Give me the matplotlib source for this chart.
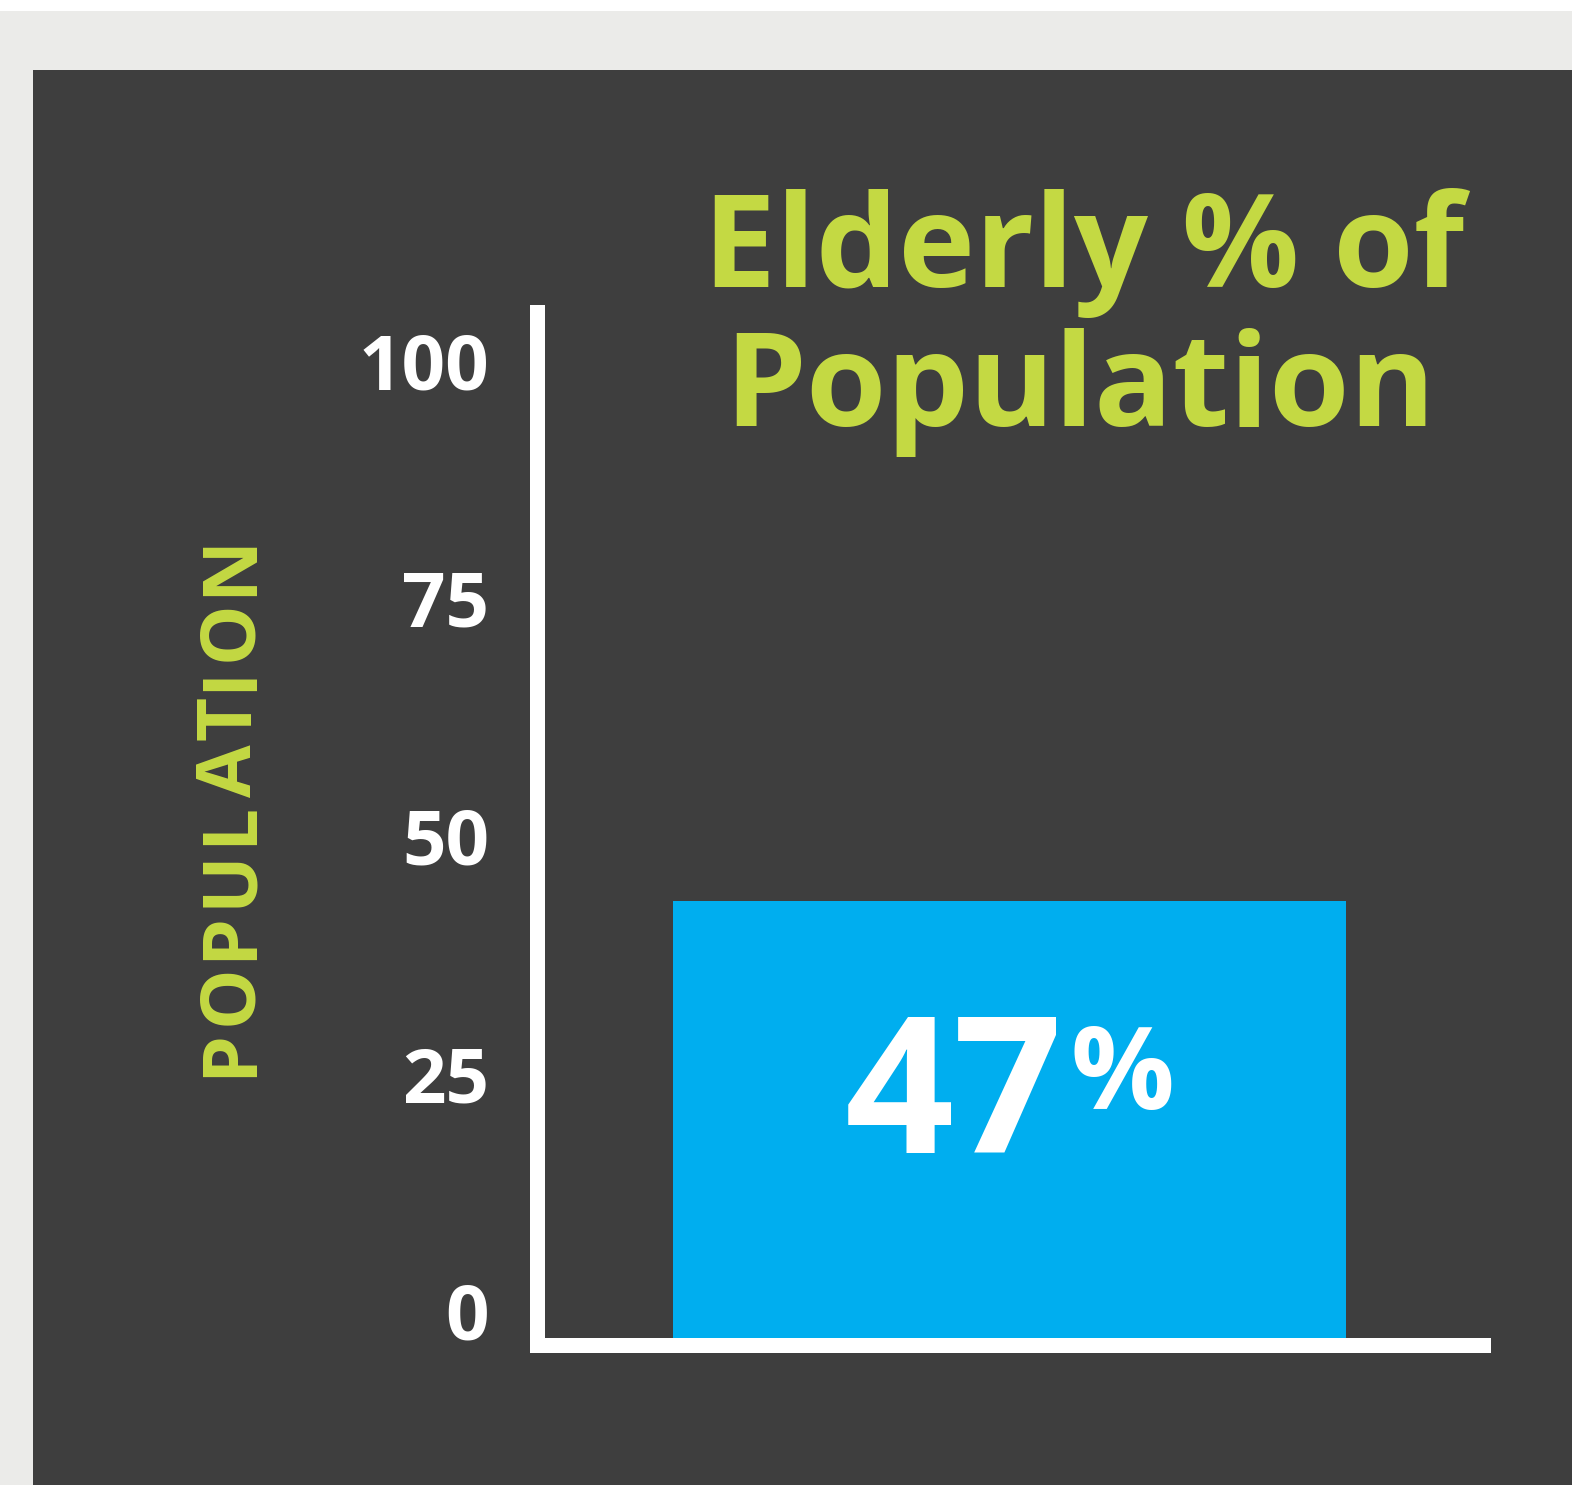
import matplotlib
matplotlib.use("Agg")
import matplotlib.pyplot as plt
from matplotlib.patches import Rectangle

# ---- data ----
categories = ["Elderly"]
values = [47]
tick_values = [0, 25, 50, 75, 100]
tick_labels = ["0", "25", "50", "75", "100"]
title_lines = ["Elderly % of", "Population"]
ylabel = "POPULATION"

W, H = 1572, 1485
DPI = 100
LIME = "#c4d943"
BLUE = "#00aeef"
DARK = "#3e3e3e"
LIGHT = "#ebebe9"
FONT = ["Open Sans", "DejaVu Sans"]

plt.rcParams["font.family"] = FONT

fig = plt.figure(figsize=(W / DPI, H / DPI), dpi=DPI, facecolor="white")


def fx(x):
    return x / W


def fy(y):
    return 1 - y / H


# background panels
fig.patches.append(Rectangle((0, 0), 1, fy(11), transform=fig.transFigure,
                             facecolor=LIGHT, edgecolor="none", zorder=-10))
fig.patches.append(Rectangle((fx(33), 0), 1 - fx(33), fy(70), transform=fig.transFigure,
                             facecolor=DARK, edgecolor="none", zorder=-9))

# main axes (spine centers)
lw_px = 15
ax_l, ax_r = 536.5, 1482.5
ax_t, ax_b = 311.5, 1344.5
ax = fig.add_axes([fx(ax_l), fy(ax_b), fx(ax_r) - fx(ax_l), fy(ax_t) - fy(ax_b)])
ax.set_zorder(1)
ax.set_facecolor("none")
bar_top_px = 901
ymax = values[0] * (ax_b - ax_t) / (ax_b - bar_top_px)
ax.set_ylim(0, ymax)
ax.set_xlim(-0.5, 0.5)
ax.bar([0], values, width=0.712, color=BLUE, zorder=1)
for s in ["top", "right"]:
    ax.spines[s].set_visible(False)
for s in ["left", "bottom"]:
    ax.spines[s].set_color("white")
    ax.spines[s].set_linewidth(lw_px * 72 / DPI)
    ax.spines[s].set_capstyle("projecting")
    ax.spines[s].set_zorder(3)
ax.set_xticks([])
ax.set_yticks([])

# tick label axes
t0, t100 = 1320.5, 369.5
tax = fig.add_axes([fx(489), fy(t0), 0.001, fy(t100) - fy(t0)])
tax.set_zorder(1)
tax.set_ylim(0, 100)
tax.set_yticks(tick_values)
tax.set_yticklabels(tick_labels)
tax.tick_params(axis="y", length=0, pad=0, labelsize=55, labelcolor="white")
for lab in tax.get_yticklabels():
    lab.set_fontweight("bold")
    lab.set_verticalalignment("center")
tax.set_xticks([])
tax.set_facecolor("none")
for s in tax.spines.values():
    s.set_visible(False)

# title
fig.text(fx(1083.5), fy(287), title_lines[0], ha="center", va="baseline",
         fontsize=93.8, fontweight="bold", color=LIME, zorder=5)
fig.text(fx(1080), fy(426), title_lines[1], ha="center", va="baseline",
         fontsize=93.8, fontweight="bold", color=LIME, zorder=5)

# y label, drawn letter by letter with slight tracking
renderer = fig.canvas.get_renderer()
lab_fs = 55
tracking = 4.6
widths = []
for ch in ylabel:
    t = fig.text(0, 0, ch, fontsize=lab_fs, fontweight="bold")
    widths.append(t.get_window_extent(renderer).width)
    t.remove()
total = sum(widths) + tracking * (len(ylabel) - 1)
ycur = 805.5 + total / 2  # pixel from top, start at bottom
for ch, w in zip(ylabel, widths):
    fig.text(fx(231.5), fy(ycur - w / 2), ch, rotation=90, ha="center", va="center",
             rotation_mode="anchor", fontsize=lab_fs, fontweight="bold", color=LIME, zorder=5)
    ycur -= w + tracking

# value label
fig.text(fx(845), fy(1153), f"{values[0]}", ha="left", va="baseline",
         fontsize=137.5, fontweight="bold", color="white", zorder=5)
fig.text(fx(1071), fy(1109), "%", ha="left", va="baseline",
         fontsize=83, fontweight="bold", color="white", zorder=5)

fig.savefig("out.png", dpi=DPI, facecolor=fig.get_facecolor())
